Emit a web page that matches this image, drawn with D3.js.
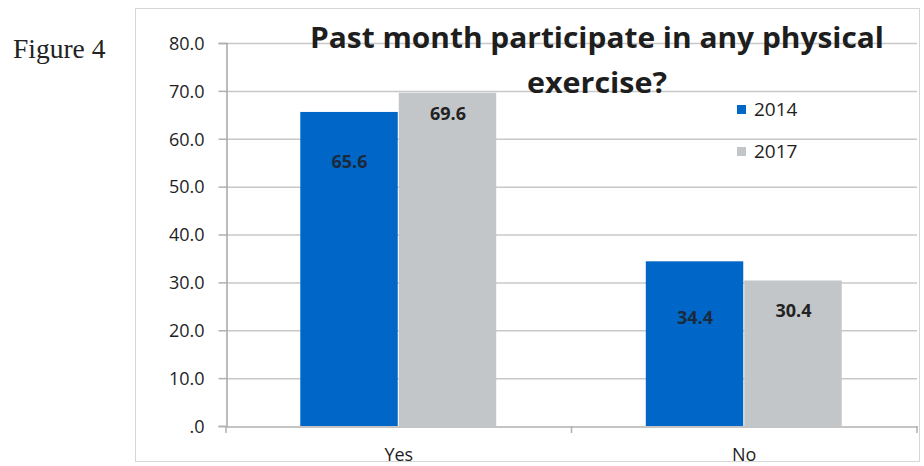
<!DOCTYPE html>
<html><head><meta charset="utf-8">
<script src="https://cdn.jsdelivr.net/npm/d3@7"></script>
<style>body{margin:0;background:#fff}svg{display:block}</style>
</head><body>
<svg id="c" width="924" height="466"></svg>
<script>
const categories = ["Yes", "No"];
const seriesNames = ["2014", "2017"];
const values2014 = [65.6, 34.4];
const values2017 = [69.6, 30.4];
const yTicks = [0, 10, 20, 30, 40, 50, 60, 70, 80];
const yTickLabels = [".0", "10.0", "20.0", "30.0", "40.0", "50.0", "60.0", "70.0", "80.0"];
const colors = ["#0067c8", "#c3c6c9"];

(function () {
const svg = d3.select("#c");
const pLeft = 226, pRight = 917, pTop = 43, pBottom = 426;
const y = d3.scaleLinear().domain([0, 80]).range([pBottom, pTop]);
const x0 = d3.scaleBand().domain(categories).range([pLeft, pRight]).paddingInner(0.43).paddingOuter(0.215);
const x1 = d3.scaleBand().domain(seriesNames).range([0, x0.bandwidth()]).padding(0);

// frame
svg.append("rect").attr("x", 135.5).attr("y", 8.5).attr("width", 784).attr("height", 453)
  .attr("fill", "none").attr("stroke", "#d6d6d6").attr("stroke-width", 1);

svg.append("text").attr("x", 13).attr("y", 58).attr("font-family", "Liberation Serif")
  .attr("font-size", 27.5).attr("fill", "#222").text("Figure 4");

// gridlines
svg.append("g").selectAll("line").data(yTicks.slice(1)).join("line")
  .attr("x1", pLeft).attr("x2", pRight).attr("y1", d => y(d) + 0.5).attr("y2", d => y(d) + 0.5)
  .attr("stroke", "#c8c8c8").attr("stroke-width", 1.5);

// y axis
const yAxis = d3.axisLeft(y).tickValues(yTicks).tickSize(8).tickFormat((d, i) => yTickLabels[i]);
const gy = svg.append("g").attr("transform", `translate(${pLeft + 0.5},0)`).call(yAxis);
gy.select(".domain").attr("stroke", "#a8a8a8").attr("stroke-width", 1.5);
gy.selectAll(".tick line").attr("stroke", "#b0b0b0").attr("stroke-width", 1.5);
gy.selectAll(".tick text").attr("font-family", "Open Sans, Liberation Sans").attr("font-size", 18)
  .attr("fill", "#1e1e1e").attr("x", -22).attr("dy", "0.35em");

// x axis
const xAxis = d3.axisBottom(x0).tickSize(0).tickPadding(18);
const gx = svg.append("g").attr("transform", `translate(0,${pBottom + 0.5})`).call(xAxis);
gx.select(".domain").attr("stroke", "#b0b0b0").attr("stroke-width", 1.5);
gx.selectAll(".tick text").attr("font-family", "Open Sans, Liberation Sans").attr("font-size", 18)
  .attr("fill", "#1e1e1e").attr("dy", "0.9em");
const bounds = [pLeft, pLeft + x0.step(), pRight];
svg.append("g").selectAll("line").data(bounds).join("line")
  .attr("x1", d => d).attr("x2", d => d).attr("y1", pBottom).attr("y2", pBottom + 7)
  .attr("stroke", "#b0b0b0").attr("stroke-width", 1.5);

// bars
const rows = categories.map((c, i) => ({ cat: c, vals: [values2014[i], values2017[i]] }));
const labelDy = [[50, 21], [56, 30]];
const g = svg.append("g").selectAll("g").data(rows).join("g")
  .attr("transform", d => `translate(${x0(d.cat)},0)`);
g.selectAll("rect").data(d => d.vals.map((v, k) => ({ s: seriesNames[k], v, k }))).join("rect")
  .attr("x", d => x1(d.s)).attr("width", x1.bandwidth() - 1)
  .attr("y", d => y(d.v)).attr("height", d => pBottom - y(d.v))
  .attr("fill", d => colors[d.k]);
g.selectAll("text").data((d, i) => d.vals.map((v, k) => ({ s: seriesNames[k], v, k, i }))).join("text")
  .attr("x", d => x1(d.s) + x1.bandwidth() / 2)
  .attr("y", d => y(d.v) + labelDy[d.i][d.k]).attr("dy", "0.35em")
  .attr("text-anchor", "middle").attr("font-family", "Open Sans, Liberation Sans")
  .attr("font-weight", "bold").attr("font-size", 18).attr("fill", d => d.k === 0 ? "#1b2a3a" : "#222")
  .text(d => d.v.toFixed(1));

// title
const title = svg.append("g").attr("font-family", "Open Sans").attr("font-weight", "bold")
  .attr("font-size", 29).attr("fill", "#1e1e1e").attr("text-anchor", "middle");
title.append("text").attr("x", 597).attr("y", 48).attr("textLength", 574)
  .attr("lengthAdjust", "spacingAndGlyphs").text("Past month participate in any physical");
title.append("text").attr("x", 597).attr("y", 93).attr("textLength", 140)
  .attr("lengthAdjust", "spacingAndGlyphs").text("exercise?");

// legend
const lg = svg.append("g").selectAll("g").data(seriesNames).join("g")
  .attr("transform", (d, i) => `translate(737,${105 + i * 42})`);
lg.append("rect").attr("width", 9).attr("height", 9).attr("fill", (d, i) => colors[i]);
lg.append("text").attr("x", 17).attr("y", 4.5).attr("dy", "0.35em")
  .attr("font-family", "Open Sans, Liberation Sans").attr("font-size", 19).attr("fill", "#1e1e1e").text(d => d);
})();
</script>
</body></html>
